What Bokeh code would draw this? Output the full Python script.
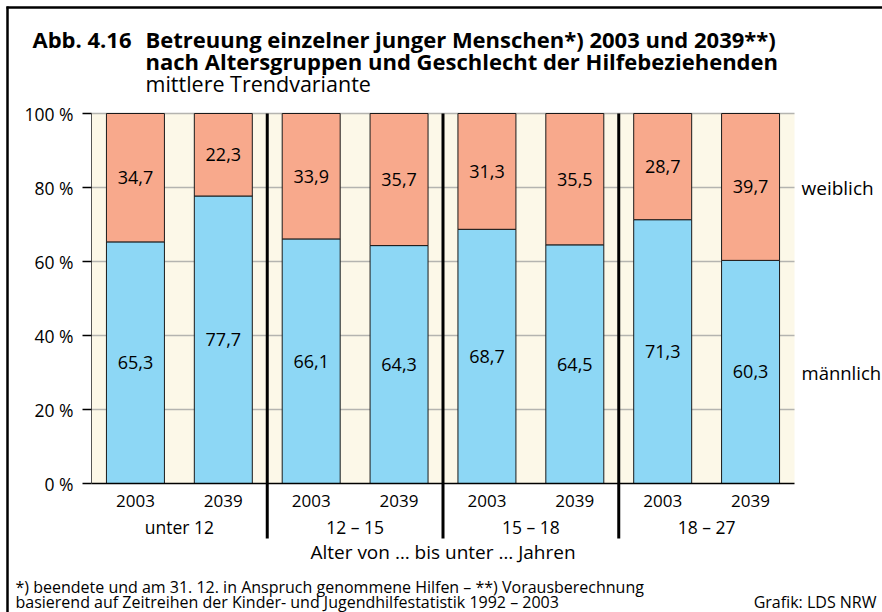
from bokeh.plotting import figure
from bokeh.models import Range1d, FixedTicker, Label, ColumnDataSource
from bokeh.core.properties import value
from bokeh.embed import file_html
from bokeh.resources import INLINE

# ---------------- data ----------------
years = ["2003", "2039", "2003", "2039", "2003", "2039", "2003", "2039"]
groups = ["unter 12", "12 – 15", "15 – 18", "18 – 27"]
maennlich = [65.3, 77.7, 66.1, 64.3, 68.7, 64.5, 71.3, 60.3]
weiblich = [34.7, 22.3, 33.9, 35.7, 31.3, 35.5, 28.7, 39.7]
y_ticks = [0, 20, 40, 60, 80, 100]
y_tick_labels = ["0 %", "20 %", "40 %", "60 %", "80 %", "100 %"]
title_0 = "Abb. 4.16"
title_1 = "Betreuung einzelner junger Menschen*) 2003 und 2039**)"
title_2 = "nach Altersgruppen und Geschlecht der Hilfebeziehenden"
subtitle = "mittlere Trendvariante"
x_title = "Alter von … bis unter … Jahren"
foot_1 = "*) beendete und am 31. 12. in Anspruch genommene Hilfen – **) Vorausberechnung"
foot_2 = "basierend auf Zeitreihen der Kinder- und Jugendhilfestatistik 1992 – 2003"
source_txt = "Grafik: LDS NRW"

# ---------------- layout geometry (canvas px) ----------------
W, H = 882, 612
FL, FR, FT, FB = 91, 794, 113, 483      # where the bar area sits on the canvas
NSLOT = len(years)
FONT = "Open Sans"
CREAM = "#FCF8E8"
SALMON = "#F8A98C"
BLUE = "#8DD7F5"
GRID = "#b4b4b0"


def dx(cx):
    return (cx - FL) / (FR - FL) * NSLOT


def dy(cy):
    return (FB - cy) / (FB - FT) * 100.0


def fmt(v):
    return f"{v:.1f}".replace(".", ",")


xs = [i + 0.5 for i in range(NSLOT)]
src = ColumnDataSource(dict(
    x=xs,
    m=maennlich,
    top=[a + b for a, b in zip(maennlich, weiblich)],
    m_mid=[a / 2 for a in maennlich],
    w_mid=[a + b / 2 for a, b in zip(maennlich, weiblich)],
    m_txt=[fmt(v) for v in maennlich],
    w_txt=[fmt(v) for v in weiblich],
))

p = figure(width=W, height=H,
           x_range=Range1d(dx(0), dx(W)), y_range=Range1d(dy(H), dy(0)),
           output_backend="svg", toolbar_location=None, title=None, min_border=0)
p.background_fill_color = "white"
p.border_fill_color = "white"
p.outline_line_color = None
p.grid.visible = False

# plot background and horizontal grid lines
p.quad(left=0, right=NSLOT, bottom=0, top=100, fill_color=CREAM, line_color=None)
p.segment(x0=0, x1=NSLOT, y0=y_ticks[1:], y1=y_ticks[1:], line_color=GRID, line_width=1.5)

# y axis
p.yaxis.fixed_location = 0
p.yaxis.bounds = (0, 100)
p.yaxis.ticker = FixedTicker(ticks=y_ticks)
p.yaxis.major_label_overrides = {t: l for t, l in zip(y_ticks, y_tick_labels)}
p.yaxis.major_tick_out = 9
p.yaxis.major_tick_in = 0
p.yaxis.minor_tick_line_color = None
p.yaxis.major_tick_line_color = "black"
p.yaxis.major_tick_line_width = 1.5
p.yaxis.axis_line_color = "#555555"
p.yaxis.axis_line_width = 1
p.yaxis.major_label_standoff = 9
p.yaxis.major_label_text_font = FONT
p.yaxis.major_label_text_font_size = "17.5px"
p.yaxis.major_label_text_color = "black"

# x axis
p.xaxis.fixed_location = 0
p.xaxis.bounds = (0, NSLOT)
p.xaxis.ticker = FixedTicker(ticks=xs)
p.xaxis.major_label_overrides = {x: y for x, y in zip(xs, years)}
p.xaxis.major_tick_out = 0
p.xaxis.major_tick_in = 0
p.xaxis.minor_tick_line_color = None
p.xaxis.axis_line_color = "black"
p.xaxis.axis_line_width = 1.5
p.xaxis.major_label_standoff = 11
p.xaxis.major_label_text_font = FONT
p.xaxis.major_label_text_font_size = "17px"
p.xaxis.major_label_text_color = "black"

# bars
p.vbar(x="x", bottom=0, top="m", width=0.66, source=src,
       fill_color=BLUE, line_color="#1a1a1a", line_width=1)
p.vbar(x="x", bottom="m", top="top", width=0.66, source=src,
       fill_color=SALMON, line_color="#1a1a1a", line_width=1)

p.text(x="x", y="m_mid", text="m_txt", source=src, text_align="center",
       text_baseline="middle", text_font=value(FONT), text_font_size="18px",
       text_color="black")
p.text(x="x", y="w_mid", text="w_txt", source=src, text_align="center",
       text_baseline="middle", text_font=value(FONT), text_font_size="18px",
       text_color="black")

# group separators (through the plot and the label area below)
seps = [2 * k for k in range(1, len(groups))]
p.segment(x0=seps, x1=seps, y0=100, y1=dy(538), line_color="black", line_width=3)

# outer frame (left and top)
p.segment(x0=[dx(7), dx(6)], x1=[dx(7), dx(W + 4)],
          y0=[dy(6), dy(7)], y1=[dy(H + 4), dy(7)],
          line_color="black", line_width=2.5)


def lab(x, y, text, size="17px", align="left", baseline="middle", bold=False):
    p.add_layout(Label(x=x, y=y, text=text, text_align=align, text_baseline=baseline,
                       text_font=FONT, text_font_size=size, text_color="black",
                       text_font_style="bold" if bold else "normal"))


# group labels + axis title
for k, g in enumerate(groups):
    lab(2 * k + 1, dy(526), g, size="17.5px", align="center")
lab(NSLOT / 2, dy(551), x_title, size="19px", align="center")

# series labels on the right
lab(dx(801), 80, "weiblich", size="19px")
lab(dx(801), dy(372), "männlich", size="18.5px")

# titles
lab(dx(32), dy(38), title_0, size="22px", bold=True)
lab(dx(145), dy(38), title_1, size="22px", bold=True)
lab(dx(145), dy(60.5), title_2, size="22px", bold=True)
lab(dx(145), dy(83), subtitle, size="21.5px")

# footnotes
lab(dx(15), dy(586), foot_1, size="16px")
lab(dx(15), dy(601), foot_2, size="16px")
lab(dx(876), dy(601), source_txt, size="16px", align="right")

open("out.html", "w").write(file_html(p, INLINE))
